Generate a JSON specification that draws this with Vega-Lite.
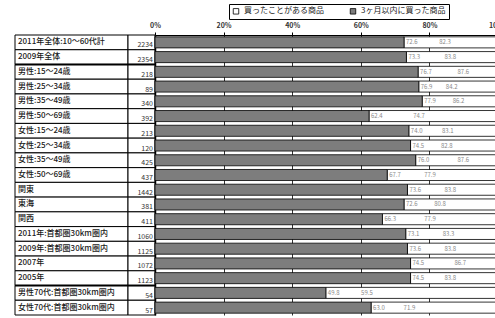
{
  "$schema": "https://vega.github.io/schema/vega-lite/v6.json",
  "padding": {"left": 14, "top": 3, "right": 0, "bottom": 0},
  "spacing": 0,
  "bounds": "flush",
  "config": {"view": {"stroke": null}, "font": "Noto Sans CJK JP"},
  "resolve": {"scale": {"color": "independent"}, "legend": {"color": "independent"}},
  "datasets": {
    "rows": [
      {"label": "2011年全体:10～60代計", "n": 2234},
      {"label": "2009年全体", "n": 2354},
      {"label": "男性:15～24歳", "n": 218},
      {"label": "男性:25～34歳", "n": 89},
      {"label": "男性:35～49歳", "n": 340},
      {"label": "男性:50～69歳", "n": 392},
      {"label": "女性:15～24歳", "n": 213},
      {"label": "女性:25～34歳", "n": 120},
      {"label": "女性:35～49歳", "n": 425},
      {"label": "女性:50～69歳", "n": 437},
      {"label": "関東", "n": 1442},
      {"label": "東海", "n": 381},
      {"label": "関西", "n": 411},
      {"label": "2011年:首都圏30km圏内", "n": 1060},
      {"label": "2009年:首都圏30km圏内", "n": 1125},
      {"label": "2007年", "n": 1072},
      {"label": "2005年", "n": 1123},
      {"label": "男性70代:首都圏30km圏内", "n": 54},
      {"label": "女性70代:首都圏30km圏内", "n": 57}
    ],
    "bars": [
      {"label": "2011年全体:10～60代計", "series": "買ったことがある商品", "pct": 82.3},
      {"label": "2009年全体", "series": "買ったことがある商品", "pct": 83.8},
      {"label": "男性:15～24歳", "series": "買ったことがある商品", "pct": 87.6},
      {"label": "男性:25～34歳", "series": "買ったことがある商品", "pct": 84.2},
      {"label": "男性:35～49歳", "series": "買ったことがある商品", "pct": 86.2},
      {"label": "男性:50～69歳", "series": "買ったことがある商品", "pct": 74.7},
      {"label": "女性:15～24歳", "series": "買ったことがある商品", "pct": 83.1},
      {"label": "女性:25～34歳", "series": "買ったことがある商品", "pct": 82.8},
      {"label": "女性:35～49歳", "series": "買ったことがある商品", "pct": 87.6},
      {"label": "女性:50～69歳", "series": "買ったことがある商品", "pct": 77.9},
      {"label": "関東", "series": "買ったことがある商品", "pct": 83.8},
      {"label": "東海", "series": "買ったことがある商品", "pct": 80.8},
      {"label": "関西", "series": "買ったことがある商品", "pct": 77.9},
      {"label": "2011年:首都圏30km圏内", "series": "買ったことがある商品", "pct": 83.3},
      {"label": "2009年:首都圏30km圏内", "series": "買ったことがある商品", "pct": 83.8},
      {"label": "2007年", "series": "買ったことがある商品", "pct": 86.7},
      {"label": "2005年", "series": "買ったことがある商品", "pct": 83.8},
      {"label": "男性70代:首都圏30km圏内", "series": "買ったことがある商品", "pct": 59.5},
      {"label": "女性70代:首都圏30km圏内", "series": "買ったことがある商品", "pct": 71.9},
      {"label": "2011年全体:10～60代計", "series": "3ヶ月以内に買った商品", "pct": 72.6},
      {"label": "2009年全体", "series": "3ヶ月以内に買った商品", "pct": 73.3},
      {"label": "男性:15～24歳", "series": "3ヶ月以内に買った商品", "pct": 76.7},
      {"label": "男性:25～34歳", "series": "3ヶ月以内に買った商品", "pct": 76.9},
      {"label": "男性:35～49歳", "series": "3ヶ月以内に買った商品", "pct": 77.9},
      {"label": "男性:50～69歳", "series": "3ヶ月以内に買った商品", "pct": 62.4},
      {"label": "女性:15～24歳", "series": "3ヶ月以内に買った商品", "pct": 74.0},
      {"label": "女性:25～34歳", "series": "3ヶ月以内に買った商品", "pct": 74.5},
      {"label": "女性:35～49歳", "series": "3ヶ月以内に買った商品", "pct": 76.0},
      {"label": "女性:50～69歳", "series": "3ヶ月以内に買った商品", "pct": 67.7},
      {"label": "関東", "series": "3ヶ月以内に買った商品", "pct": 73.6},
      {"label": "東海", "series": "3ヶ月以内に買った商品", "pct": 72.6},
      {"label": "関西", "series": "3ヶ月以内に買った商品", "pct": 66.3},
      {"label": "2011年:首都圏30km圏内", "series": "3ヶ月以内に買った商品", "pct": 73.1},
      {"label": "2009年:首都圏30km圏内", "series": "3ヶ月以内に買った商品", "pct": 73.6},
      {"label": "2007年", "series": "3ヶ月以内に買った商品", "pct": 74.5},
      {"label": "2005年", "series": "3ヶ月以内に買った商品", "pct": 74.5},
      {"label": "男性70代:首都圏30km圏内", "series": "3ヶ月以内に買った商品", "pct": 49.8},
      {"label": "女性70代:首都圏30km圏内", "series": "3ヶ月以内に買った商品", "pct": 63.0}
    ]
  },
  "hconcat": [
    {
      "width": 113,
      "height": 280,
      "data": {"name": "rows"},
      "layer": [
        {
          "mark": {"type": "bar", "fill": "white", "stroke": "black", "strokeWidth": 1},
          "encoding": {
            "y": {"field": "label", "type": "nominal", "sort": null, "scale": {"paddingInner": 0, "paddingOuter": 0}, "axis": null}
          }
        },
        {
          "transform": [{"filter": {"field": "label", "oneOf": ["男性:15～24歳", "男性70代:首都圏30km圏内"]}}],
          "mark": {"type": "rule", "stroke": "black", "strokeWidth": 2},
          "encoding": {
            "y": {"field": "label", "type": "nominal", "sort": null, "bandPosition": 0}
          }
        },
        {
          "mark": {"type": "text", "align": "left", "dx": 3, "fontSize": 8, "fill": "#1a1a1a", "fontWeight": 500},
          "encoding": {
            "y": {"field": "label", "type": "nominal", "sort": null},
            "x": {"datum": 0, "type": "quantitative", "scale": {"domain": [0, 1]}, "axis": null},
            "text": {"field": "label"}
          }
        }
      ]
    },
    {
      "width": 27,
      "height": 280,
      "data": {"name": "rows"},
      "layer": [
        {
          "mark": {"type": "bar", "fill": "white", "stroke": "black", "strokeWidth": 1},
          "encoding": {
            "y": {"field": "label", "type": "nominal", "sort": null, "scale": {"paddingInner": 0, "paddingOuter": 0}, "axis": null}
          }
        },
        {
          "transform": [{"filter": {"field": "label", "oneOf": ["男性:15～24歳", "男性70代:首都圏30km圏内"]}}],
          "mark": {"type": "rule", "stroke": "black", "strokeWidth": 2},
          "encoding": {
            "y": {"field": "label", "type": "nominal", "sort": null, "bandPosition": 0}
          }
        },
        {
          "mark": {"type": "text", "align": "right", "dx": -2, "dy": 3, "fontSize": 7, "fill": "#333"},
          "encoding": {
            "y": {"field": "label", "type": "nominal", "sort": null},
            "x": {"datum": 1, "type": "quantitative", "scale": {"domain": [0, 1]}, "axis": null},
            "text": {"field": "n"}
          }
        }
      ]
    },
    {
      "width": 343,
      "height": 280,
      "data": {"name": "bars"},
      "encoding": {
        "y": {"field": "label", "type": "nominal", "sort": null, "scale": {"paddingInner": 0.25, "paddingOuter": 0.125},
          "axis": {"labels": false, "ticks": false, "title": null, "domain": true, "domainColor": "black", "domainWidth": 1.5, "grid": false}},
        "x": {"field": "pct", "type": "quantitative", "scale": {"domain": [0, 100]},
          "axis": {"orient": "top", "values": [0, 20, 40, 60, 80, 100], "labelExpr": "datum.value + '%'", "labelFontSize": 7, "labelFontWeight": "bold", "labelColor": "#333", "labelFlush": false, "labelPadding": 4, "ticks": true, "tickSize": 3, "tickColor": "black", "grid": true, "gridColor": "black", "gridWidth": 0.8, "domain": true, "domainColor": "black", "title": null}}
      },
      "layer": [
        {
          "mark": {"type": "bar", "stroke": "black", "strokeWidth": 0.8},
          "encoding": {
            "color": {"field": "series", "type": "nominal",
              "scale": {"domain": ["買ったことがある商品", "3ヶ月以内に買った商品"], "range": ["white", "#7d7d7d"]},
              "legend": {"orient": "none", "legendX": 74, "legendY": -31, "direction": "horizontal", "title": null,
                "strokeColor": "black", "fillColor": "white", "padding": 3, "symbolType": "square", "symbolSize": 30,
                "symbolStrokeColor": "black", "symbolStrokeWidth": 0.8, "labelFontSize": 8, "labelColor": "#222", "columnPadding": 24, "labelLimit": 200}}
          }
        },
        {
          "mark": {"type": "text", "align": "left", "dx": 2, "fontSize": 6, "fill": "#8a8a8a"},
          "encoding": {
            "text": {"field": "pct", "type": "quantitative", "format": ".1f"}
          }
        }
      ]
    }
  ]
}
